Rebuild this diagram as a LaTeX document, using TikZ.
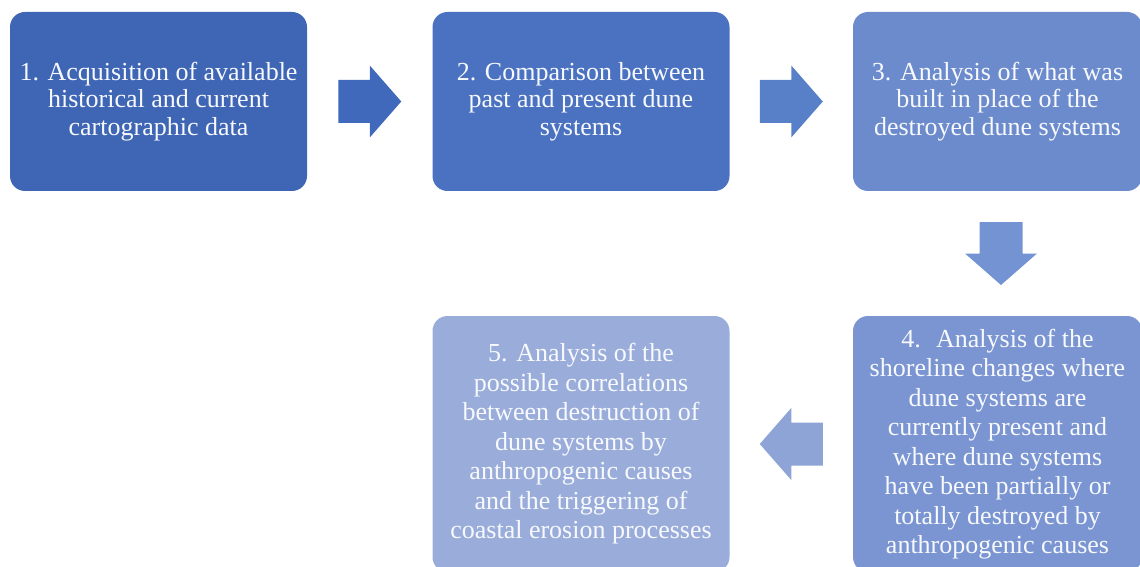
\documentclass[tikz,border=0pt]{standalone}
\usepackage{fontspec}
\setmainfont{Liberation Serif}
\usetikzlibrary{calc}
\definecolor{stageA}{HTML}{3F65B5}
\definecolor{stageB}{HTML}{4A72C1}
\definecolor{stageC}{HTML}{6C8BCD}
\definecolor{stageD}{HTML}{7A95D2}
\definecolor{stageE}{HTML}{9AADDA}
\definecolor{arrowA}{HTML}{4068BB}
\definecolor{arrowB}{HTML}{5880C9}
\definecolor{arrowC}{HTML}{7493D2}
\definecolor{arrowD}{HTML}{8FA4D6}
\tikzset{
    flow/.style={
        x=1pt,y=1pt,
        stage/.append style={align=center,rectangle,rounded corners=15pt,inner sep=0pt,text=white!96!stageA,minimum width=297pt,minimum height=179pt,font=\fontsize{26}{27.5}\selectfont},
        tall/.append style={minimum height=256pt,font=\fontsize{26}{29.5}\selectfont},
        narrow/.append style={minimum width=289pt}
    },
    blockarrow/.pic={
        \path[pic actions] (-31.5,-21.5) -- (0,-21.5) -- (0,-36) -- (31.5,0) -- (0,36) -- (0,21.5) -- (-31.5,21.5) -- cycle;
    }
}

\begin{document}
\begin{tikzpicture}[flow]
    \useasboundingbox (0,0) rectangle (1140,566);
    \clip (0,0) rectangle (1140,566);
    \node[stage,fill=stageA] (s1) at (158.5,464.5) {1. Acquisition of available\\historical and current\\cartographic data};
    \node[stage,fill=stageB] (s2) at (581,464.5) {2. Comparison between\\past and present dune\\systems};
    \node[stage,narrow,fill=stageC] (s3) at (997.5,464.5) {3. Analysis of what was\\built in place of the\\destroyed dune systems};
    \node[stage,tall,narrow,fill=stageD] (s4) at (997.5,122) {4.~ Analysis of the\\shoreline changes where\\dune systems are\\currently present and\\where dune systems\\have been partially or\\totally destroyed by\\anthropogenic causes};
    \node[stage,tall,fill=stageE] (s5) at (581,122) {5. Analysis of the\\possible correlations\\between destruction of\\dune systems by\\anthropogenic causes\\and the triggering of\\coastal erosion processes};
    \pic[fill=arrowA] at ($(s1.east)!.5!(s2.west)$) {blockarrow};
    \pic[fill=arrowB] at ($(s2.east)!.5!(s3.west)$) {blockarrow};
    \pic[fill=arrowC,xshift=3.5pt,rotate=-90] at ($(s3.south)!.5!(s4.north)$) {blockarrow};
    \pic[fill=arrowD,rotate=180] at ($(s4.west)!.5!(s5.east)$) {blockarrow};
\end{tikzpicture}
\end{document}
